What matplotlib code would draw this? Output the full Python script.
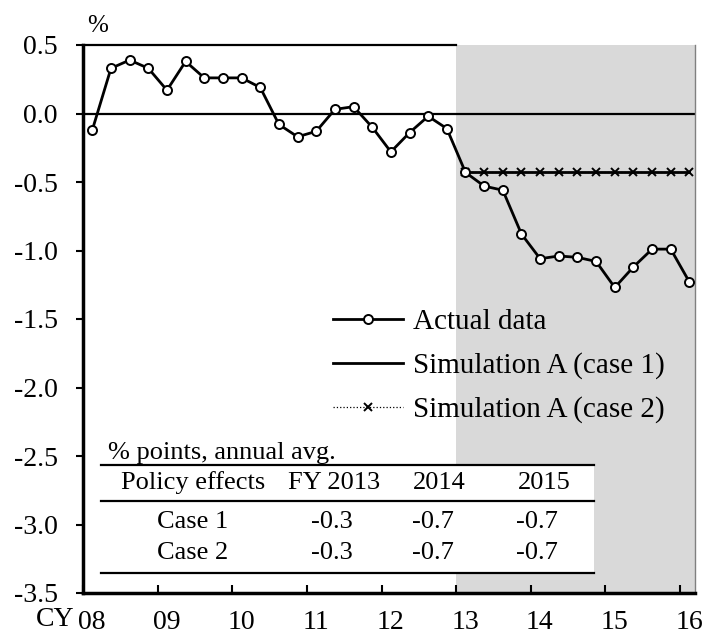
import numpy as np
import matplotlib.pyplot as plt
from matplotlib.patches import Rectangle

plt.rcParams['font.family'] = ['Liberation Serif', 'DejaVu Serif']

# Quarterly data, 2008Q1 - 2016Q1
years = list(range(2008, 2017))
year_labels = ['08', '09', '10', '11', '12', '13', '14', '15', '16']
quarters = [(y, q) for y in range(2008, 2017) for q in range(1, 5)][:33]

actual = [-0.12, 0.33, 0.39, 0.33, 0.17, 0.38, 0.26, 0.26, 0.26, 0.19,
          -0.08, -0.17, -0.13, 0.03, 0.05, -0.10, -0.28, -0.14, -0.02, -0.11,
          -0.43, -0.53, -0.56, -0.88, -1.06, -1.04, -1.05, -1.08, -1.27, -1.12,
          -0.99, -0.99, -1.23]

# simulations start at 2013Q1
sim_case1 = [-0.43, -0.43, -0.43, -0.43, -0.43, -0.43, -0.43, -0.43, -0.43,
             -0.43, -0.43, -0.43, -0.43]
sim_case2 = [-0.43, -0.43, -0.43, -0.43, -0.43, -0.43, -0.43, -0.43, -0.43,
             -0.43, -0.43, -0.43, -0.43]

# table of policy effects
table_title = '% points, annual avg.'
table_header = ['Policy effects', 'FY 2013', '2014', '2015']
table_rows = ['Case 1', 'Case 2']
table_values = [['-0.3', '-0.7', '-0.7'],
                ['-0.3', '-0.7', '-0.7']]

x = np.array([y + (q - 0.5) / 4 for y, q in quarters])
x_sim = x[-len(sim_case1):]

fig = plt.figure(figsize=(7.05, 6.37), dpi=100)
ax = fig.add_axes([83 / 705, 1 - 593 / 637, 612 / 705, 548 / 637])

ax.set_xlim(2008, 2016.2)
ax.set_ylim(-3.5, 0.5)

ax.axvspan(2013, 2016.2, color='#d9d9d9', lw=0, zorder=0)
ax.plot([2008, 2013], [0.5, 0.5], color='black', lw=1.6, zorder=2, clip_on=False)
ax.axhline(0, color='black', lw=1.6, zorder=2)

ax.plot(x, actual, '-o', color='black', lw=2, ms=6.5, mfc='white',
        mec='black', mew=1.4, zorder=5, label='Actual data')
ax.plot(x_sim, sim_case1, '-', color='black', lw=2, zorder=3,
        label='Simulation A (case 1)')
ax.plot(x_sim, sim_case2, ':', marker='x', color='black', lw=0.9, ms=5.5,
        mew=1.4, zorder=4, label='Simulation A (case 2)')

# axes style
for s in ['left', 'bottom']:
    ax.spines[s].set_linewidth(2.5)
ax.spines['top'].set_visible(False)
ax.spines['right'].set_color('#808080')
ax.spines['right'].set_linewidth(1)

ax.set_yticks(np.arange(-3.5, 0.51, 0.5))
ax.set_yticklabels(['%.1f' % v for v in np.arange(-3.5, 0.51, 0.5)])
ax.tick_params(axis='y', direction='out', length=5, width=1.5, pad=13,
               labelsize=20)

ax.set_xticks(years)
ax.set_xticklabels([])
ax.tick_params(axis='x', which='major', direction='in', length=5.5, width=1.5)
ax.set_xticks([y + 0.12 for y in years], minor=True)
ax.set_xticklabels(year_labels, minor=True)
ax.tick_params(axis='x', which='minor', length=0, pad=12.5, labelsize=20)

fig.text(55 / 705, 1 - 620 / 637, 'CY', ha='center', va='center', fontsize=20)
fig.text(98 / 705, 1 - 26 / 637, '%', ha='center', va='center', fontsize=18)

leg = ax.legend(loc='upper left', bbox_to_anchor=(333 / 705, 1 - 309 / 637),
                bbox_transform=fig.transFigure, frameon=False, fontsize=21,
                handlelength=2.4, handletextpad=0.35, labelspacing=0.58,
                borderpad=0, borderaxespad=0, numpoints=1)

# table in the lower left corner
def ax_x(px):
    return (px - 83) / 612

def ax_y(py):
    return (593 - py) / 548

ax.add_patch(Rectangle((ax_x(101), ax_y(573)), ax_x(594) - ax_x(101),
                       ax_y(465) - ax_y(573), transform=ax.transAxes,
                       facecolor='white', lw=0, zorder=6))
for py in [465, 501, 573]:
    ax.plot([ax_x(101), ax_x(594)], [ax_y(py), ax_y(py)], color='black',
            lw=1.6, transform=ax.transAxes, zorder=7)

tfs = 19
ax.text(ax_x(108), ax_y(453), table_title, transform=ax.transAxes,
        ha='left', va='center', fontsize=tfs, zorder=8)
header_x = [193, 334, 439, 544]
for hx, h in zip(header_x, table_header):
    ax.text(ax_x(hx), ax_y(483), h, transform=ax.transAxes, ha='center',
            va='center', fontsize=tfs, zorder=8)
value_x = [332, 433, 537]
for ry, name, vals in zip([522, 553], table_rows, table_values):
    ax.text(ax_x(193), ax_y(ry), name, transform=ax.transAxes, ha='center',
            va='center', fontsize=tfs, zorder=8)
    for vx, v in zip(value_x, vals):
        ax.text(ax_x(vx), ax_y(ry), v, transform=ax.transAxes, ha='center',
                va='center', fontsize=tfs, zorder=8)

fig.savefig('out.png', dpi=100)
